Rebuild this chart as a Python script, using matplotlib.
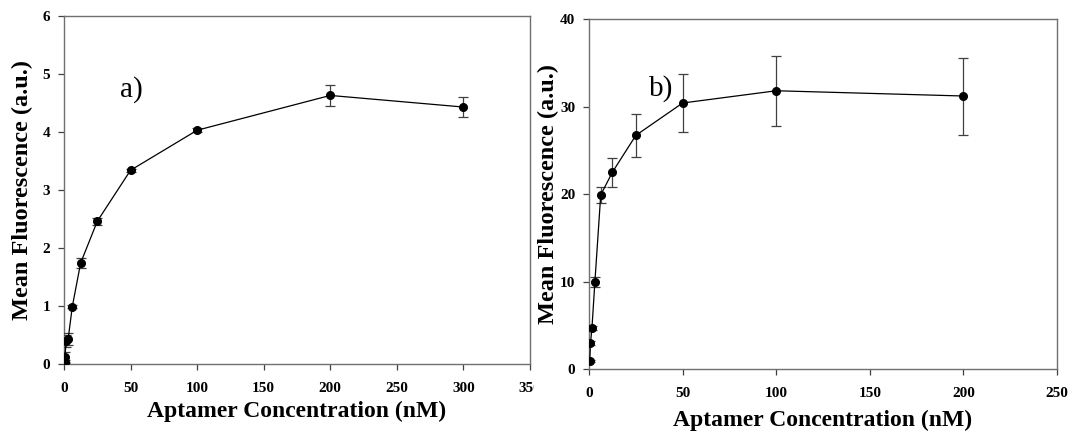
import matplotlib
matplotlib.use("Agg")
import matplotlib.pyplot as plt
from matplotlib.patches import Rectangle

# ---- data ----
conc_a = [0.39, 0.78, 1.56, 3.125, 6.25, 12.5, 25, 50, 100, 200, 300]
fluor_a = [0.04, 0.12, 0.40, 0.43, 0.99, 1.74, 2.46, 3.34, 4.03, 4.63, 4.43]
err_a = [0.03, 0.08, 0.10, 0.10, 0.03, 0.09, 0.06, 0.03, 0.03, 0.18, 0.18]

conc_b = [0.39, 0.78, 1.56, 3.125, 6.25, 12.5, 25, 50, 100, 200]
fluor_b = [0.88, 2.97, 4.7, 9.94, 19.9, 22.5, 26.7, 30.4, 31.8, 31.2]
err_b = [0.1, 0.2, 0.2, 0.55, 0.95, 1.65, 2.5, 3.3, 4.0, 4.4]

xticks_a = [0, 50, 100, 150, 200, 250, 300, 350]
yticks_a = [0, 1, 2, 3, 4, 5, 6]
xticks_b = [0, 50, 100, 150, 200, 250]
yticks_b = [0, 10, 20, 30, 40]

xlabel = "Aptamer Concentration (nM)"
ylabel = "Mean Fluorescence (a.u.)"

plt.rcParams['font.family'] = ['Liberation Serif', 'DejaVu Serif']

fig = plt.figure(figsize=(10.7, 4.33), dpi=100)
ax1 = fig.add_axes([0.0598, 0.1594, 0.4355, 0.8037])
ax2 = fig.add_axes([0.5505, 0.1478, 0.4374, 0.8083])

spine_col = '#707070'

def style(ax, x, y, e, xt, yt, xlim, ylim, xlab_y, ylab_x):
    ax.errorbar(x, y, yerr=e, fmt='-o', color='black',
                ecolor='#404040', elinewidth=0.9, capsize=3.6, capthick=0.9,
                lw=0.9, markersize=5.5, zorder=3)
    ax.set_xlim(*xlim)
    ax.set_ylim(*ylim)
    ax.set_xticks(xt)
    ax.set_yticks(yt)
    ax.set_xticklabels([str(v) for v in xt])
    ax.set_yticklabels([str(v) for v in yt])
    for s in ax.spines.values():
        s.set_color(spine_col)
        s.set_linewidth(1.0)
    ax.tick_params(axis='both', direction='out', length=4, width=0.9,
                   color='#404040', labelsize=11)
    ax.tick_params(axis='x', pad=9)
    ax.tick_params(axis='y', pad=6)
    for lab in ax.get_xticklabels() + ax.get_yticklabels():
        lab.set_fontweight('bold')
    ax.set_xlabel(xlabel, fontsize=17, fontweight='bold')
    ax.set_ylabel(ylabel, fontsize=17.5, fontweight='bold')
    ax.xaxis.set_label_coords(0.5, xlab_y)
    ax.xaxis.label.set_va('center')
    ax.yaxis.set_label_coords(ylab_x, 0.5)
    ax.yaxis.label.set_va('center')

style(ax1, conc_a, fluor_a, err_a, xticks_a, yticks_a, (0, 350), (0, 6), -0.135, -0.09)
style(ax2, conc_b, fluor_b, err_b, xticks_b, yticks_b, (0, 250), (0, 40), -0.146, -0.087)

ax1.text(0.12, 0.79, "a)", transform=ax1.transAxes, fontsize=21,
         ha='left', va='center')
ax2.text(0.128, 0.80, "b)", transform=ax2.transAxes, fontsize=21,
         ha='left', va='center')

# the right panel's background covers the end of the left panel's last tick label
fig.patches.append(Rectangle((0.499, 0.0), 0.501, 1.0, transform=fig.transFigure,
                             facecolor='white', edgecolor='none', zorder=5))
ax2.set_zorder(6)

fig.savefig("out.png", dpi=100)
